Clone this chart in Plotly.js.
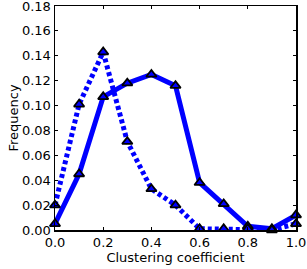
<!DOCTYPE html>
<html><head><meta charset="utf-8">
<script src="https://cdn.plot.ly/plotly-3.0.1.min.js"></script>
<style>html,body{margin:0;padding:0;background:#fff}#c{width:307px;height:269px}</style>
</head><body><div id="c"></div>
<script>
var xs = [0.0,0.1,0.2,0.3,0.4,0.5,0.6,0.7,0.8,0.9,1.0];
var solidVals = [0.005,0.045,0.107,0.118,0.125,0.116,0.038,0.021,0.003,0.001,0.012];
var dottedVals = [0.020,0.101,0.143,0.071,0.033,0.020,0.001,0.001,0.001,0.000,0.005];
var xTicks = [0,0.2,0.4,0.6,0.8,1.0];
var xTickText = ['0.0','0.2','0.4','0.6','0.8','1.0'];
var yTicks = [0,0.02,0.04,0.06,0.08,0.10,0.12,0.14,0.16,0.18];
var yTickText = ['0.00','0.02','0.04','0.06','0.08','0.10','0.12','0.14','0.16','0.18'];

var mk = {symbol:'triangle-up', size:9, color:'#0000ff', line:{color:'#000', width:1.8}};
var traces = [
 {x:xs, y:solidVals, mode:'lines', line:{color:'#0000ff', width:5}, hoverinfo:'skip'},
 {x:xs, y:dottedVals, mode:'lines', line:{color:'#0000ff', width:5, dash:'4px,3px'}, hoverinfo:'skip'},
 {x:xs, y:solidVals, mode:'markers', marker:mk, cliponaxis:false},
 {x:xs, y:dottedVals, mode:'markers', marker:mk, cliponaxis:false}
];
var axCommon = {showgrid:false, zeroline:false, showline:true, linecolor:'#000', linewidth:1.5,
  mirror:'allticks', ticks:'inside', ticklen:3, tickwidth:1, tickcolor:'#000',
  ticklabeloverflow:'allow',
  tickfont:{family:'DejaVu Sans', size:13, color:'#000'}};
var layout = {
  width:307, height:269, showlegend:false,
  margin:{l:55, r:11, t:6, b:39},
  paper_bgcolor:'#fff', plot_bgcolor:'#fff',
  xaxis:Object.assign({}, axCommon, {range:[0,1], tickvals:xTicks, ticktext:xTickText,
    title:{text:'Clustering coefficient', font:{family:'DejaVu Sans', size:13, color:'#000'}, standoff:4}}),
  yaxis:Object.assign({}, axCommon, {range:[0,0.18], tickvals:yTicks, ticktext:yTickText,
    title:{text:'Frequency', font:{family:'DejaVu Sans', size:13, color:'#000'}, standoff:0}})
};
Plotly.newPlot('c', traces, layout, {staticPlot:true, displayModeBar:false});
</script></body></html>
